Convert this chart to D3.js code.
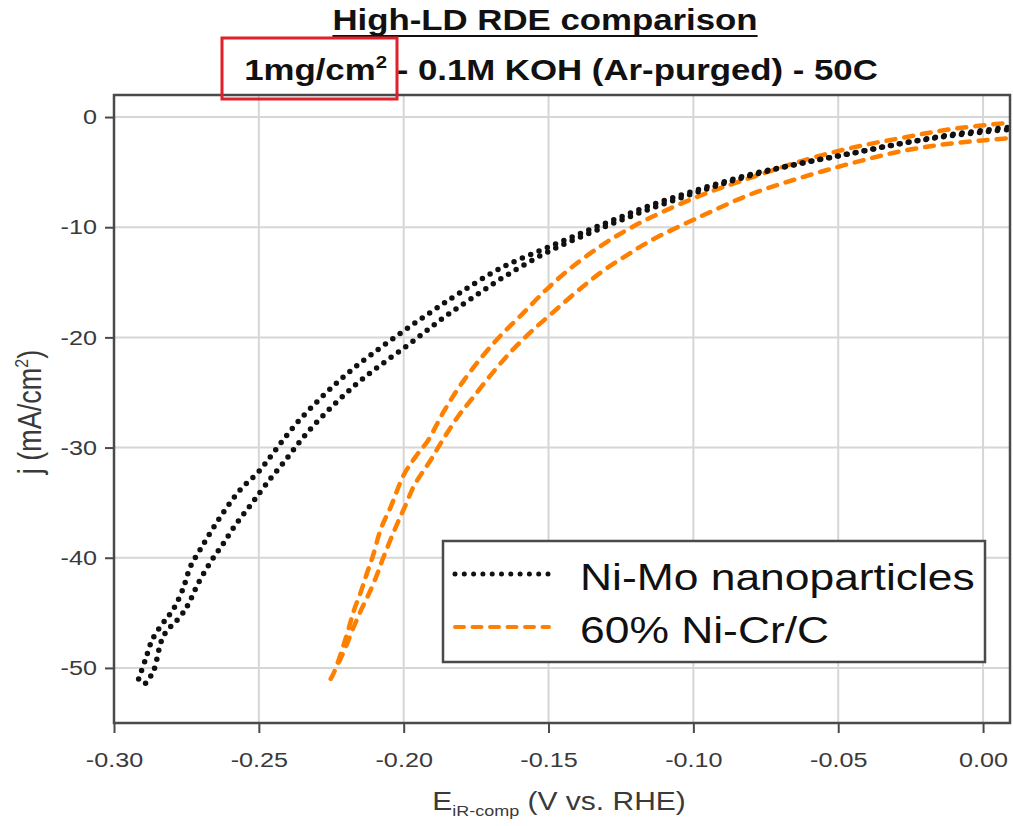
<!DOCTYPE html>
<html lang="en">
<head>
  <meta charset="UTF-8">
  <title>High-LD RDE comparison</title>
  <script src="https://d3js.org/d3.v7.min.js"></script>
  <style>
    body { margin: 0; background: #fff; }
    svg { display: block; font-family: "Liberation Sans", Arial, sans-serif; }
  </style>
</head>
<body>
<div class="main"></div>
<script>
  let width = 1013;
  let height = 826;
  let sx = 1.2; // the source picture is a bit wider than tall, text too

  // axis ticks
  let eTicks = [-0.30, -0.25, -0.20, -0.15, -0.10, -0.05, 0.00];
  let jTicks = [0, -10, -20, -30, -40, -50];
  let seriesNames = ["Ni-Mo nanoparticles", "60% Ni-Cr/C"];

  // Ni-Mo nanoparticles, two sweep branches (E in V, j in mA/cm2)
  let niMoE1 = [-0.2915, -0.2891, -0.2867, -0.2822, -0.2798, -0.2763, -0.2736, -0.2701, -0.2660, -0.2615, -0.2563, -0.2501, -0.2442, -0.2373, -0.2286, -0.2200, -0.2114, -0.2010, -0.1906, -0.1803, -0.1664, -0.1492, -0.1319, -0.1146, -0.0973, -0.0801, -0.0628, -0.0455, -0.0282, -0.0110, 0.0098];
  let niMoJ1 = [-51.0, -49.2, -47.4, -45.6, -44.8, -42.9, -40.8, -39.2, -37.4, -35.6, -33.8, -32.2, -30.2, -27.9, -25.5, -23.4, -21.6, -19.6, -17.7, -15.9, -13.7, -11.7, -9.8, -8.0, -6.5, -5.2, -4.2, -3.3, -2.4, -1.6, -0.9];
  let niMoE2 = [-0.2891, -0.2864, -0.2829, -0.2770, -0.2743, -0.2711, -0.2667, -0.2625, -0.2580, -0.2528, -0.2477, -0.2407, -0.2338, -0.2252, -0.2166, -0.2079, -0.1975, -0.1872, -0.1768, -0.1647, -0.1492, -0.1319, -0.1146, -0.0973, -0.0801, -0.0628, -0.0455, -0.0282, -0.0110, 0.0098];
  let niMoJ2 = [-51.4, -50.3, -47.1, -45.3, -44.2, -42.4, -40.4, -38.8, -37.0, -35.2, -33.4, -31.1, -28.8, -26.4, -24.3, -22.5, -20.5, -18.4, -16.5, -14.4, -12.1, -10.1, -8.3, -6.7, -5.3, -4.2, -3.3, -2.4, -1.7, -1.1];

  // 60% Ni-Cr/C, two sweep branches
  let niCrE1 = [-0.2252, -0.2242, -0.2217, -0.2193, -0.2172, -0.2148, -0.2128, -0.2107, -0.2079, -0.2045, -0.2000, -0.1958, -0.1917, -0.1861, -0.1803, -0.1734, -0.1664, -0.1595, -0.1509, -0.1423, -0.1319, -0.1233, -0.1146, -0.0973, -0.0801, -0.0628, -0.0455, -0.0282, -0.0110, 0.0098];
  let niCrJ1 = [-51.0, -50.5, -48.7, -46.7, -44.8, -43.1, -41.5, -39.9, -37.4, -35.4, -32.5, -30.8, -29.4, -26.7, -24.3, -21.9, -19.8, -18.0, -15.7, -13.7, -11.7, -10.3, -9.1, -7.1, -5.5, -4.0, -2.8, -1.9, -1.1, -0.5];
  let niCrE2 = [-0.2224, -0.2200, -0.2176, -0.2148, -0.2124, -0.2096, -0.2069, -0.2027, -0.1993, -0.1965, -0.1934, -0.1906, -0.1872, -0.1813, -0.1768, -0.1699, -0.1630, -0.1561, -0.1492, -0.1405, -0.1319, -0.1233, -0.1146, -0.0973, -0.0801, -0.0628, -0.0455, -0.0282, -0.0110, 0.0098];
  let niCrJ2 = [-49.5, -48.1, -46.5, -44.8, -43.5, -41.8, -39.9, -37.2, -35.2, -33.5, -32.2, -31.1, -29.6, -27.2, -25.7, -23.4, -21.3, -19.5, -17.9, -15.9, -14.1, -12.6, -11.2, -9.0, -7.0, -5.5, -4.2, -3.1, -2.4, -1.9];

  let plot = { left: 114, right: 1010, top: 95, bottom: 723 };

  let x = d3.scaleLinear().domain([-0.30, 0.0093]).range([plot.left, plot.right]);
  let y = d3.scaleLinear().domain([-55, 2]).range([plot.bottom, plot.top]);

  let styles = [
    { color: "#111111", width: 5.5, dash: "0,9" },
    { color: "#ff8000", width: 4.5, dash: "9,9" }
  ];

  function zip(es, js) {
    return es.map((e, i) => ({ e: e, j: js[i] }));
  }

  let svg = d3.select(".main")
          .append("svg")
          .attr("width", width)
          .attr("height", height);

  svg.append("defs").append("clipPath").attr("id", "plotClip")
          .append("rect")
          .attr("x", plot.left).attr("y", plot.top)
          .attr("width", plot.right - plot.left).attr("height", plot.bottom - plot.top);

  // grid
  let grid = svg.append("g").attr("stroke", "#d6d6d6").attr("stroke-width", 2);
  grid.selectAll(".vg").data(eTicks.slice(1)).join("line")
          .attr("x1", d => x(d)).attr("x2", d => x(d))
          .attr("y1", plot.top).attr("y2", plot.bottom);
  grid.selectAll(".hg").data(jTicks).join("line")
          .attr("x1", plot.left).attr("x2", plot.right)
          .attr("y1", d => y(d)).attr("y2", d => y(d));

  // curves
  let line = d3.line().x(d => x(d.e)).y(d => y(d.j)).curve(d3.curveCatmullRom);
  let curves = [
    { s: 1, pts: zip(niCrE1, niCrJ1) },
    { s: 1, pts: zip(niCrE2, niCrJ2) },
    { s: 0, pts: zip(niMoE1, niMoJ1) },
    { s: 0, pts: zip(niMoE2, niMoJ2) }
  ];
  svg.append("g").attr("clip-path", "url(#plotClip)")
          .selectAll("path").data(curves).join("path")
          .attr("d", d => line(d.pts))
          .attr("fill", "none")
          .attr("stroke", d => styles[d.s].color)
          .attr("stroke-width", d => styles[d.s].width)
          .attr("stroke-dasharray", d => styles[d.s].dash)
          .attr("stroke-linecap", "round");

  // axes
  let xAxis = d3.axisBottom(x).tickValues(eTicks).tickSize(10).tickSizeOuter(0).tickPadding(19)
          .tickFormat(d => d.toFixed(2));
  let yAxis = d3.axisLeft(y).tickValues(jTicks).tickSize(9).tickSizeOuter(0).tickPadding(8)
          .tickFormat(d => String(d));

  let gx = svg.append("g").attr("transform", `translate(0,${plot.bottom})`).call(xAxis);
  let gy = svg.append("g").attr("transform", `translate(${plot.left},0)`).call(yAxis);
  [gx, gy].forEach(g => {
    g.select(".domain").remove();
    g.selectAll(".tick line").attr("stroke", "#4a4a4a").attr("stroke-width", 2);
    g.selectAll(".tick text").attr("fill", "#3a3a3a").style("font-size", "21px");
  });
  gx.selectAll(".tick text").attr("transform", `scale(${sx},1)`);
  gy.selectAll(".tick text").attr("x", -17 / sx).attr("transform", `scale(${sx},1)`);

  // frame
  svg.append("rect")
          .attr("x", plot.left).attr("y", plot.top)
          .attr("width", plot.right - plot.left).attr("height", plot.bottom - plot.top)
          .attr("fill", "none").attr("stroke", "#4a4a4a").attr("stroke-width", 2.5);

  // axis titles
  let xt = svg.append("g").attr("transform", `translate(559,810) scale(${sx},1)`)
          .append("text").attr("text-anchor", "middle").attr("fill", "#3a3a3a").style("font-size", "25px");
  xt.append("tspan").text("E");
  xt.append("tspan").attr("dy", 6).style("font-size", "15px").text("iR-comp");
  xt.append("tspan").attr("dy", -6).text(" (V vs. RHE)");

  let yt = svg.append("g").attr("transform", `translate(41,412) rotate(-90) scale(1,${sx})`)
          .append("text").attr("text-anchor", "middle").attr("fill", "#3a3a3a").style("font-size", "27px");
  yt.append("tspan").text("j (mA/cm");
  yt.append("tspan").attr("dy", -11).style("font-size", "16px").text("2");
  yt.append("tspan").attr("dy", 11).text(")");

  // title
  let t1g = svg.append("g").attr("transform", `translate(545,30) scale(${sx},1)`);
  let t1 = t1g.append("text").attr("text-anchor", "middle").attr("fill", "#111")
          .style("font-size", "29px").style("font-weight", "bold")
          .text("High-LD RDE comparison");
  let w1 = t1.node().getComputedTextLength();
  t1g.append("line").attr("x1", -w1 / 2).attr("x2", w1 / 2).attr("y1", 6).attr("y2", 6)
          .attr("stroke", "#111").attr("stroke-width", 2.2);

  let t2 = svg.append("g").attr("transform", `translate(561,80) scale(${sx},1)`)
          .append("text").attr("text-anchor", "middle").attr("fill", "#111")
          .style("font-size", "29px").style("font-weight", "bold");
  t2.append("tspan").text("1mg/cm");
  t2.append("tspan").attr("dy", -12).style("font-size", "17px").text("2");
  t2.append("tspan").attr("dy", 12).text(" - 0.1M KOH (Ar-purged) - 50C");

  // red highlight box round the loading
  svg.append("rect")
          .attr("x", 222).attr("y", 38).attr("width", 175).attr("height", 61)
          .attr("fill", "none").attr("stroke", "#e0202a").attr("stroke-width", 3);

  // legend
  let legend = svg.append("g").attr("transform", "translate(443,541)");
  legend.append("rect").attr("width", 542).attr("height", 121)
          .attr("fill", "#fff").attr("stroke", "#4a4a4a").attr("stroke-width", 2.5);
  seriesNames.forEach((name, i) => {
    let ly = 33 + i * 53;
    legend.append("line").attr("x1", 12).attr("x2", 106).attr("y1", ly).attr("y2", ly)
            .attr("stroke", styles[i].color).attr("stroke-width", styles[i].width - 0.5)
            .attr("stroke-dasharray", i === 0 ? "0,9.3" : "9,8.5").attr("stroke-linecap", "round");
    legend.append("g").attr("transform", `translate(137,${ly + 16}) scale(${sx},1)`)
            .append("text").attr("fill", "#111").style("font-size", "37px").text(name);
  });
</script>
</body>
</html>
